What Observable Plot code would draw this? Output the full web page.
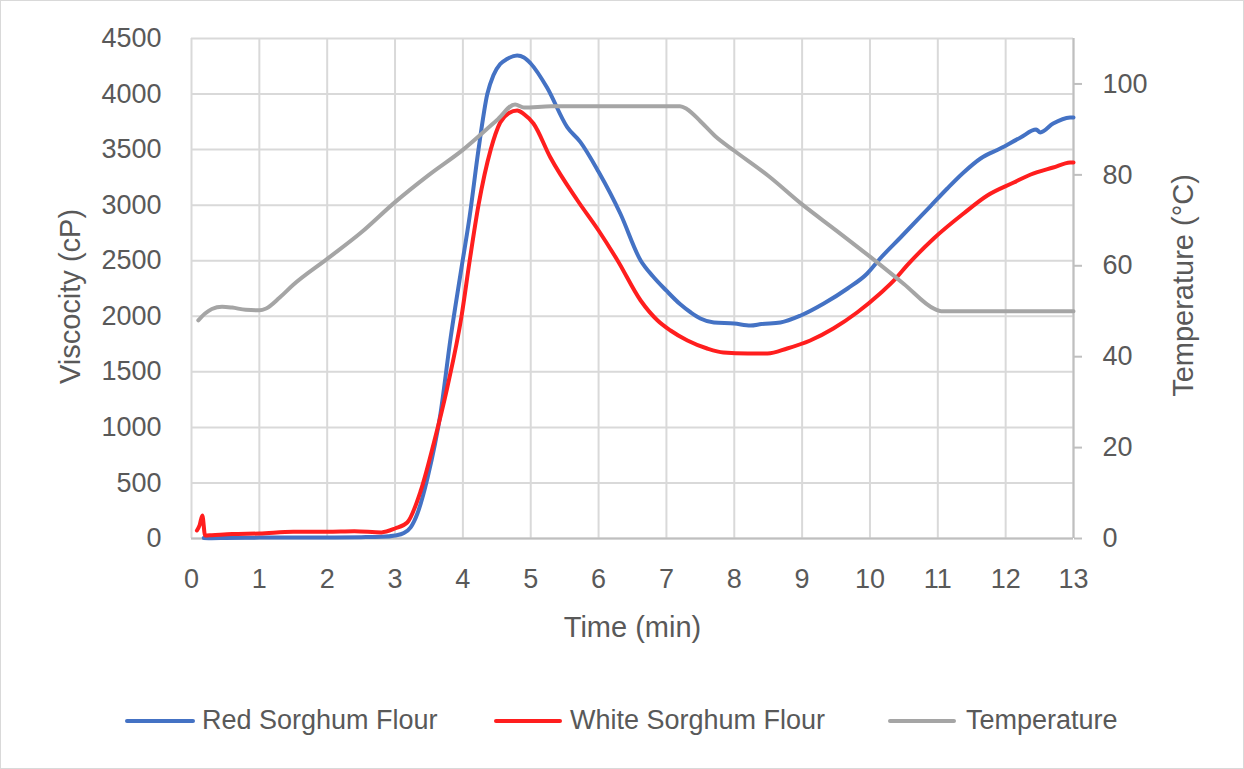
<!DOCTYPE html>
<html>
<head>
<meta charset="utf-8">
<script src="https://cdn.jsdelivr.net/npm/d3@7"></script>
<script src="https://cdn.jsdelivr.net/npm/@observablehq/plot@0.6"></script>
<style>
  html, body { margin: 0; padding: 0; background: #fff; }
  #wrap { position: relative; width: 1244px; height: 769px; overflow: hidden; background: #fff; }
  #frame { position: absolute; left: 0; top: 0; width: 1244px; height: 769px; box-sizing: border-box; border: 1px solid #d9d9d9; pointer-events: none; }
  #chart { position: absolute; left: 0; top: 0; }
  .lg { position: absolute; font-family: 'Liberation Sans', Arial, sans-serif; font-size: 27px; color: #595959; white-space: nowrap; }
  .sw { position: absolute; height: 4px; border-radius: 2px; }
</style>
</head>
<body>
<div id="wrap">
  <div id="chart"></div>
  <div id="legend"></div>
  <div id="frame"></div>
</div>
<script>
// ---- Data ----
const seriesNames = ["Red Sorghum Flour", "White Sorghum Flour", "Temperature"];
const seriesColors = ["#4472C4", "#FF1E1E", "#A5A5A5"];

const timeTicks = [0,1,2,3,4,5,6,7,8,9,10,11,12,13];
const viscTicks = [0,500,1000,1500,2000,2500,3000,3500,4000,4500];
const tempTicks = [0,20,40,60,80,100];

// Red Sorghum Flour viscosity (cP)
const redTime = [
  0.18, 0.3, 0.5, 1.0, 1.5, 2.0, 2.5, 2.8, 3.0, 3.13,
  3.23, 3.33, 3.48, 3.67, 3.82, 3.97, 4.10, 4.23, 4.36, 4.45,
  4.55, 4.65, 4.80, 4.90, 5.00, 5.24, 5.54, 5.73, 6.00, 6.32,
  6.62, 6.80, 7.00, 7.20, 7.36, 7.50, 7.70, 8.00, 8.24, 8.40,
  8.68, 8.98, 9.32, 9.67, 9.96, 10.15, 10.45, 10.89, 11.14, 11.38,
  11.63, 11.92, 12.22, 12.45, 12.51, 12.70, 12.95, 13.0
];
const redVisc = [
  5, 3, 5, 8, 10, 10, 12, 15, 27, 50,
  100, 225, 549, 1125, 1809, 2400, 2900, 3500, 4000, 4170,
  4270, 4315, 4347, 4330, 4275, 4059, 3700, 3570, 3300, 2925,
  2502, 2360, 2230, 2110, 2034, 1980, 1944, 1935, 1917, 1930,
  1944, 2007, 2115, 2250, 2385, 2520, 2709, 2990, 3150, 3294,
  3420, 3510, 3609, 3680, 3655, 3735, 3789, 3790
];

// White Sorghum Flour viscosity (cP)
const whiteTime = [
  0.08, 0.12, 0.16, 0.2, 0.3, 0.6, 1.0, 1.5, 2.0, 2.4,
  2.8, 3.0, 3.18, 3.38, 3.57, 3.77, 3.98, 4.10, 4.23, 4.41,
  4.55, 4.68, 4.80, 4.90, 5.04, 5.29, 5.69, 6.00, 6.28, 6.62,
  6.87, 7.06, 7.31, 7.60, 7.84, 8.20, 8.49, 8.78, 9.12, 9.46,
  9.81, 10.15, 10.35, 10.55, 10.94, 11.38, 11.73, 12.12, 12.37, 12.70,
  12.95, 13.0
];
const whiteVisc = [
  72, 120, 207, 27, 30, 40, 45, 60, 60, 65,
  55, 90, 144, 432, 855, 1359, 2000, 2500, 3000, 3500,
  3744, 3830, 3852, 3820, 3735, 3429, 3042, 2772, 2502, 2142,
  1962, 1872, 1782, 1710, 1674, 1665, 1665, 1710, 1782, 1890,
  2034, 2205, 2320, 2460, 2700, 2925, 3087, 3204, 3276, 3339,
  3384, 3385
];

// Temperature (°C)
const tempTime = [
  0.1, 0.2, 0.3, 0.45, 0.6, 0.8, 1.0, 1.1, 1.3, 1.5,
  2.0, 2.5, 3.0, 3.5, 4.0, 4.5, 4.77, 4.9, 5.3, 7.2,
  7.3, 7.5, 7.72, 8.0, 8.5, 9.0, 9.5, 10.0, 10.5, 10.95,
  11.05, 13.0
];
const tempC = [
  48, 49.5, 50.5, 51, 50.8, 50.3, 50.2, 50.6, 53, 55.8,
  61.5, 67.3, 74, 80, 85.5, 92, 95.5, 94.8, 95.1, 95.1,
  94.5, 91.8, 88.5, 85.3, 79.8, 73.5, 67.8, 62, 56, 50.5,
  50, 50
];

// ---- Build ----
const TEMP_MAX = 110;            // secondary axis top
const VISC_MAX = 4500;
const K = VISC_MAX / TEMP_MAX;   // temperature -> primary scale

const redData = redTime.map((t, i) => ({t, v: redVisc[i]}));
const whiteData = whiteTime.map((t, i) => ({t, v: whiteVisc[i]}));
const tempData = tempTime.map((t, i) => ({t, v: tempC[i] * K}));

const txt = "#595959";
const chart = Plot.plot({
  width: 1244,
  height: 680,
  marginTop: 38,
  marginLeft: 191,
  marginRight: 171,
  marginBottom: 142,
  style: {fontFamily: "'Liberation Sans', Arial, sans-serif", fontSize: "27px", color: txt, background: "transparent", overflow: "visible"},
  x: {domain: [0, 13]},
  y: {domain: [0, VISC_MAX]},
  marks: [
    Plot.gridX(timeTicks, {stroke: "#d9d9d9", strokeOpacity: 1, strokeWidth: 2}),
    Plot.gridY(viscTicks, {stroke: "#d9d9d9", strokeOpacity: 1, strokeWidth: 2}),
    Plot.ruleY([0], {stroke: "#bfbfbf", strokeWidth: 2}),
    Plot.ruleX([13], {stroke: "#bfbfbf", strokeWidth: 2}),
    Plot.axisX(timeTicks, {tickSize: 0, tickPadding: 30, label: null, tickFormat: d => String(d), fill: txt}),
    Plot.axisY(viscTicks, {anchor: "left", tickSize: 0, tickPadding: 30, label: null, tickFormat: d => String(d), fill: txt}),
    Plot.axisY(tempTicks.map(d => d * K), {anchor: "right", tickSize: 8, tickPadding: 21, stroke: "#bfbfbf", strokeWidth: 2, fill: txt, label: null, tickFormat: d => String(Math.round(d / K))}),
    Plot.line(redData, {x: "t", y: "v", stroke: seriesColors[0], strokeWidth: 4, curve: "monotone-x"}),
    Plot.line(whiteData, {x: "t", y: "v", stroke: seriesColors[1], strokeWidth: 4, curve: "monotone-x"}),
    Plot.line(tempData, {x: "t", y: "v", stroke: seriesColors[2], strokeWidth: 4, curve: "monotone-x"}),
    Plot.text(["Time (min)"], {frameAnchor: "bottom", dy: 89, lineAnchor: "middle", textAnchor: "middle", fontSize: 29, fill: txt}),
    Plot.text(["Viscocity (cP)"], {frameAnchor: "left", dx: -121, dy: 8, rotate: -90, textAnchor: "middle", lineAnchor: "middle", fontSize: 29, fill: txt}),
    Plot.text(["Temperature (°C)"], {frameAnchor: "right", dx: 110, dy: -3, rotate: -90, textAnchor: "middle", lineAnchor: "middle", fontSize: 29, fill: txt})
  ]
});
document.getElementById("chart").appendChild(chart);

// ---- Legend (HTML below the plot) ----
const legendPos = [
  {x0: 125, x1: 195, tx: 202},
  {x0: 494, x1: 562, tx: 570},
  {x0: 888, x1: 956, tx: 966}
];
const lg = document.getElementById("legend");
seriesNames.forEach((name, i) => {
  const p = legendPos[i];
  const sw = document.createElement("div");
  sw.className = "sw";
  sw.style.left = p.x0 + "px";
  sw.style.width = (p.x1 - p.x0) + "px";
  sw.style.top = "719px";
  sw.style.background = seriesColors[i];
  lg.appendChild(sw);
  const t = document.createElement("div");
  t.className = "lg";
  t.style.left = p.tx + "px";
  t.style.top = "704px";
  t.style.lineHeight = "32px";
  t.textContent = name;
  lg.appendChild(t);
});
</script>
</body>
</html>
